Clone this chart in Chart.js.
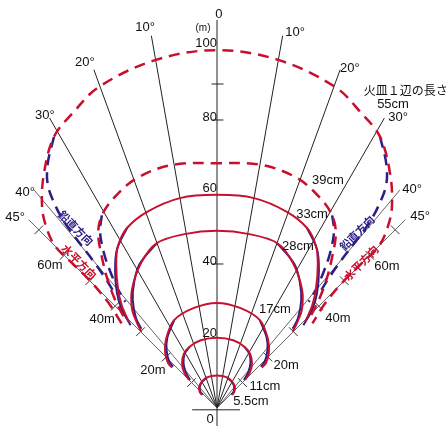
<!DOCTYPE html>
<html>
<head>
<meta charset="utf-8">
<script src="https://cdn.jsdelivr.net/npm/chart.js@4/dist/chart.umd.min.js"></script>
<style>
  html, body { margin: 0; padding: 0; background: #fff; }
  #wrap { width: 447px; height: 426px; }
</style>
</head>
<body>
<div id="wrap"><canvas id="c" width="447" height="426"></canvas></div>
<script>
// radial guide lines: angle from vertical (deg) and length (m)
const rayAngles = [-45, -40, -30, -20, -10, 10, 20, 30, 40, 45];
const rayLengths = [74, 79, 93, 100, 105, 105, 100, 93, 79, 74];
const rayTicks = [10, 20, 30, 40, 50, 60, 70];   // cross ticks on the 45° lines

// shell names, right half of each curve [x m, height m], top first
const shells = ['5.5cm', '11cm', '17cm', '28cm', '33cm', '39cm', '55cm'];
const dashedShells = ['39cm', '55cm'];

// 水平方向 (red), full arc right half
const horiz = {
  '5.5cm': [[0, 9], [2.8, 8.5], [4.3, 7.2], [5, 5.8], [4.8, 4.5], [4.2, 3.6]],
  '11cm': [[0, 19.5], [4.5, 18.8], [7.6, 17], [9.2, 15], [9.7, 12.5], [9.2, 10], [7.8, 7.8]],
  '17cm': [[0, 29.2], [6.4, 27.8], [11.9, 24.4], [14.2, 18.9], [14.4, 15.3], [13.6, 12.5], [12.5, 11.2]],
  '28cm': [[0, 49.2], [9, 48.3], [16.7, 45.8], [21.1, 40.3], [23.6, 33], [23.6, 27.5], [22.2, 23.6], [21, 21.2]],
  '33cm': [[0, 59.2], [10.3, 58.3], [19.4, 54.5], [25, 50], [27.5, 45], [28, 40], [27.5, 33], [26.4, 28.3], [24.5, 24]],
  '39cm': [[0, 68], [12.5, 67.5], [22.2, 63.9], [28.5, 58.5], [32, 53.5], [33, 48.5], [32, 42], [30.5, 36], [28.5, 30.5], [26, 25.5]],
  '55cm': [[0, 99.4], [17, 96.7], [32.8, 89.2], [40, 82], [45.3, 75.3], [48.1, 65], [48.6, 56], [47.5, 50.5], [45, 45], [40, 40], [34.5, 34.5], [30, 29], [26.5, 23.5]],
};
// 鉛直方向 (blue), only the side part where it leaves the red arc
const vert = {
  '5.5cm': [[2.8, 8.5], [4.2, 7.2], [4.8, 5.8], [4.6, 4.5], [4, 3.7]],
  '11cm': [[7.6, 17], [9, 15], [9.3, 12.5], [8.7, 10], [7.5, 7.8]],
  '17cm': [[11.9, 24.4], [13.8, 19.5], [14, 16], [13.3, 13], [12.2, 11.5]],
  '28cm': [[16.7, 45.8], [21.5, 40], [23, 35], [23.4, 30], [22.5, 25], [21, 22]],
  '33cm': [[25, 50], [27.8, 44], [28.3, 38], [27.8, 32], [26.5, 27.5], [24, 23]],
  '39cm': [[32, 53.5], [32.5, 49], [31.4, 43], [29.5, 37.5], [27.5, 33], [25.5, 29.5]],
  '55cm': [[45.3, 75.3], [47, 68], [47, 62], [44.7, 55.8], [42, 51], [38.3, 46], [34.2, 40.6], [31, 36], [28.5, 32]],
};

// vertical axis labels
const axisLabels = ['100', '80', '60', '40', '20'];
const axisLabelY = [101.4, 80.8, 61.1, 40.8, 20.8];
const axisTickY = [40, 80, 90];

// text labels [text, x m, y m]
const angleLabels = [
  ['10°', -20, 105.6], ['10°', 21.7, 104.4], ['20°', -36.7, 96.1], ['20°', 36.9, 94.2],
  ['30°', -47.8, 81.4], ['30°', 50.3, 80.6], ['40°', -53.3, 60], ['40°', 54.2, 60.6],
  ['45°', -56.1, 52.8], ['45°', 56.4, 53.1],
];
const distLabels = [
  ['60m', -46.4, 39.7], ['60m', 47.2, 39.4], ['40m', -31.9, 24.7], ['40m', 33.6, 25],
  ['20m', -17.8, 10.3], ['20m', 19.2, 11.7],
];
const shellLabels = [
  ['55cm', 48.9, 84.2], ['39cm', 30.8, 63.3], ['33cm', 26.4, 53.9], ['28cm', 22.5, 45],
  ['17cm', 16.1, 27.5], ['11cm', 13.3, 6.1], ['5.5cm', 9.4, 1.9],
];
const dirLabels = [
  ['鉛直方向', -39.2, 50, 45, '#2b1f86'], ['水平方向', -38.3, 40.6, 45, '#c8102e'],
  ['鉛直方向', 38.9, 48.6, -45, '#2b1f86'], ['水平方向', 40, 40.3, -45, '#c8102e'],
];

const RED = '#c8102e';
const BLUE = '#2b1f86';

function mirror(right) {
  const left = right.slice(1).reverse().map(([x, y]) => ({ x: -x, y }));
  return left.concat(right.map(([x, y]) => ({ x, y })));
}
const pts = (arr, sx) => arr.map(([x, y]) => ({ x: sx * x, y }));

function rad(d) { return d * Math.PI / 180; }

const datasets = [];

// vertical axis and base line
datasets.push({ data: [{ x: 0, y: -5 }, { x: 0, y: 107.8 }], borderColor: '#222', borderWidth: 1, order: 5 });
datasets.push({ data: [{ x: -6.9, y: -0.5 }, { x: 6.4, y: -0.5 }], borderColor: '#222', borderWidth: 1, order: 5 });
axisTickY.forEach(v => {
  datasets.push({ data: [{ x: -1.5, y: v }, { x: 1.8, y: v }], borderColor: '#222', borderWidth: 1, order: 5 });
});

rayAngles.forEach((a, i) => {
  const L = rayLengths[i];
  const edge = Math.abs(a) >= 40;
  datasets.push({
    data: [{ x: 0, y: 0 }, { x: L * Math.sin(rad(a)), y: L * Math.cos(rad(a)) }],
    borderColor: edge ? '#666' : '#222', borderWidth: 1, order: 5,
  });
  if (Math.abs(a) === 45) {
    rayTicks.forEach(d => {
      const cx = d * Math.sin(rad(a)), cy = d * Math.cos(rad(a));
      const px = Math.cos(rad(a)) * 1.7, py = -Math.sin(rad(a)) * 1.7;
      datasets.push({ data: [{ x: cx - px, y: cy - py }, { x: cx + px, y: cy + py }], borderColor: '#333', borderWidth: 1, order: 5 });
    });
  }
});

shells.forEach(s => {
  const dashed = dashedShells.includes(s);
  const w = dashed ? 2.5 : 2;
  const dash = dashed ? [11, 7] : [];
  [-1, 1].forEach(sx => {
    datasets.push({ data: pts(vert[s], sx), borderColor: BLUE, borderWidth: w, borderDash: dash, tension: 0.35, order: 2 });
  });
  datasets.push({ data: mirror(horiz[s]), borderColor: RED, borderWidth: w, borderDash: dash, tension: 0.35, order: 1 });
});

const textPlugin = {
  id: 'texts',
  afterDatasetsDraw(chart) {
    const { ctx, scales: { x, y } } = chart;
    const put = (t, mx, my, font, color, align) => {
      ctx.font = font;
      ctx.fillStyle = color || '#111';
      ctx.textAlign = align || 'center';
      ctx.textBaseline = 'middle';
      ctx.fillText(t, x.getPixelForValue(mx), y.getPixelForValue(my));
    };
    const f = '13px "Liberation Sans", Arial, sans-serif';
    ctx.save();
    put('0', 0.5, 109.2, f);
    put('(m)', -3.9, 105.6, '10px "Liberation Sans", Arial, sans-serif');
    axisLabels.forEach((t, i) => put(t, 0, axisLabelY[i], f, '#111', 'right'));
    put('0', -1.9, -3.3, f);
    angleLabels.forEach(([t, mx, my]) => put(t, mx, my, f));
    distLabels.forEach(([t, mx, my]) => put(t, mx, my, f));
    shellLabels.forEach(([t, mx, my]) => put(t, mx, my, f));
    put('火皿１辺の長さ', 52.4, 88.3, '12px "Noto Sans CJK JP", sans-serif');
    dirLabels.forEach(([t, mx, my, ang, col]) => {
      ctx.save();
      ctx.translate(x.getPixelForValue(mx), y.getPixelForValue(my));
      ctx.rotate(rad(ang));
      ctx.font = 'bold 11px "Noto Sans CJK JP", sans-serif';
      ctx.fillStyle = col;
      ctx.textAlign = 'center';
      ctx.textBaseline = 'middle';
      ctx.fillText(t, 0, 0);
      ctx.restore();
    });
    ctx.restore();
  }
};

new Chart(document.getElementById('c'), {
  type: 'scatter',
  data: { datasets: datasets.map(d => Object.assign({ showLine: true, pointRadius: 0, fill: false }, d)) },
  options: {
    responsive: false,
    animation: false,
    layout: { padding: 0 },
    plugins: { legend: { display: false }, tooltip: { enabled: false } },
    scales: {
      x: { type: 'linear', display: false, min: -60.28, max: 63.89 },
      y: { type: 'linear', display: false, min: -5, max: 113.33 },
    },
  },
  plugins: [textPlugin],
});
</script>
</body>
</html>
